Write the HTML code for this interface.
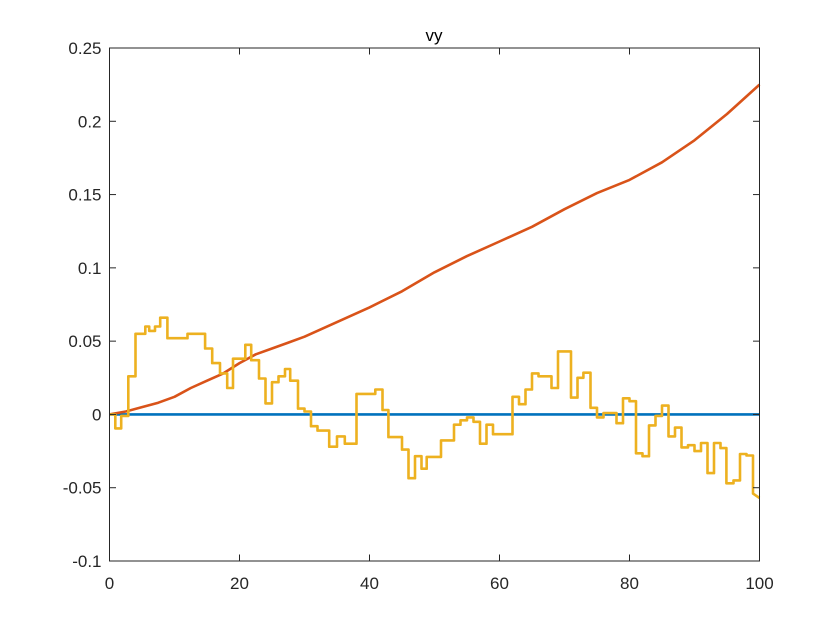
<!DOCTYPE html>
<html><head><meta charset="utf-8"><style>
body{margin:0;background:#fff;}
svg{display:block;font-family:"Liberation Sans",Arial,sans-serif;}
</style></head><body>
<svg id="chart" width="840" height="630" viewBox="0 0 840 630">
<rect x="0" y="0" width="840" height="630" fill="#fff"/>
<text x="434" y="41" font-size="17" text-anchor="middle" fill="#000">vy</text>
<g id="grid"></g>
<g id="series"></g>
<g id="axes"></g>
</svg>
<script>
const xTicks=[0,20,40,60,80,100];
const yTicks=[-0.1,-0.05,0,0.05,0.1,0.15,0.2,0.25];
const yTickLabels=["-0.1","-0.05","0","0.05","0.1","0.15","0.2","0.25"];
const blueX=[0,100];
const blueY=[0,0];
const redX=[0,2.5,5,7.5,10,12.5,15,17.5,20,22.5,25,27.5,30,35,40,45,50,55,60,65,70,75,80,85,90,95,100];
const redY=[0,0.002,0.005,0.008,0.012,0.018,0.023,0.028,0.035,0.041,0.045,0.049,0.053,0.063,0.073,0.084,0.097,0.108,0.118,0.128,0.14,0.151,0.16,0.172,0.187,0.205,0.225];
const stepX=[0,0.9,1.8,2.9,4,5.5,6.1,7,7.8,8.9,12,14.7,15.8,17,18.1,19,20.9,21.8,23,24,25,26,27,27.8,29,30,31,32,33.8,35,36.2,38,40.9,42,42.9,45,46,47,48,48.8,51,53,54,55,56,57,58,59,62,63,64,65,66,68,69,71,72,72.9,74,75,76,78,79,80,81,82,83,84,85,86,87,88,89,90,91,92,93,94,94.9,96,97,98,99];
const stepY=[0,-0.0095,-0.001,0.026,0.055,0.06,0.057,0.06,0.066,0.052,0.055,0.045,0.035,0.028,0.018,0.038,0.0475,0.037,0.0245,0.0075,0.022,0.026,0.031,0.023,0.004,0.002,-0.008,-0.011,-0.022,-0.015,-0.02,0.014,0.017,0.003,-0.0155,-0.024,-0.0435,-0.0285,-0.037,-0.029,-0.0177,-0.007,-0.004,-0.002,-0.005,-0.02,-0.007,-0.0135,0.012,0.007,0.017,0.028,0.026,0.018,0.043,0.0115,0.025,0.0285,0.0045,-0.002,0.001,-0.006,0.011,0.009,-0.0265,-0.0285,-0.0075,-0.001,0.006,-0.015,-0.009,-0.0225,-0.021,-0.025,-0.0195,-0.04,-0.0195,-0.023,-0.047,-0.045,-0.027,-0.028,-0.054];
const endY=-0.057;

const L=109.5,R=759.5,T=48,B=561;
const xS=v=>L+(v-0)/(100-0)*(R-L);
const yS=v=>B-(v-(-0.1))/(0.25-(-0.1))*(B-T);
const NS="http://www.w3.org/2000/svg";
const ser=document.getElementById('series'),ax=document.getElementById('axes');
function path(d,color,name){const p=document.createElementNS(NS,'path');p.setAttribute('d',d);p.setAttribute('fill','none');p.setAttribute('stroke',color);p.setAttribute('stroke-width','2.6');p.setAttribute('stroke-linejoin','round');


ser.appendChild(p);}
function lineD(xs,ys){return xs.map((x,i)=>(i?'L':'M')+xS(x).toFixed(1)+','+yS(ys[i]).toFixed(1)).join('');}
path(lineD(blueX,blueY),'#0072BD','blue-series-line');
path(lineD(redX,redY),'#D95319','red-series-line');
let d='M'+xS(stepX[0])+','+yS(stepY[0]);
for(let i=1;i<stepX.length;i++){d+='L'+xS(stepX[i]).toFixed(1)+','+yS(stepY[i-1]).toFixed(1)+'L'+xS(stepX[i]).toFixed(1)+','+yS(stepY[i]).toFixed(1);}
d+='L'+xS(100).toFixed(1)+','+yS(endY).toFixed(1);
path(d,'#EDB120','yellow-series-line');
const box=document.createElementNS(NS,'rect');box.setAttribute('x',L);box.setAttribute('y',T);box.setAttribute('width',R-L);box.setAttribute('height',B-T);box.setAttribute('fill','none');box.setAttribute('stroke','#262626');box.setAttribute('stroke-width','1');


ax.appendChild(box);
function ln(x1,y1,x2,y2,name){const l=document.createElementNS(NS,'line');l.setAttribute('x1',x1);l.setAttribute('y1',y1);l.setAttribute('x2',x2);l.setAttribute('y2',y2);l.setAttribute('stroke','#262626');


ax.appendChild(l);}
function tx(x,y,s,anchor,name){const t=document.createElementNS(NS,'text');t.setAttribute('x',x);t.setAttribute('y',y);t.setAttribute('font-size','17');t.setAttribute('fill','#262626');t.setAttribute('text-anchor',anchor);t.textContent=s;


ax.appendChild(t);}
xTicks.forEach(v=>{const x=xS(v);ln(x,B,x,B-6.5,'x-tick');ln(x,T,x,T+6.5,'x-tick-top');tx(x,B+28,String(v),'middle','x-tick-label');});
yTicks.forEach((v,i)=>{const y=yS(v);ln(L,y,L+6.5,y,'y-tick');ln(R,y,R-6.5,y,'y-tick-right');tx(L-8,y+6,yTickLabels[i],'end','y-tick-label');});
</script>
</body></html>
